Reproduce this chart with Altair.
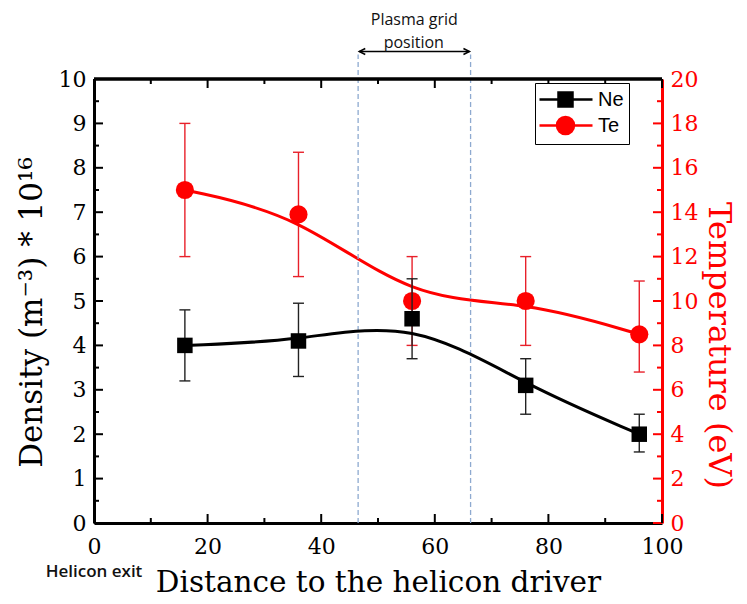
import altair as alt
import pandas as pd

# ---------------- data ----------------
distance = [16, 36, 56, 76, 96]
ne = [4.0, 4.1, 4.6, 3.1, 2.0]
ne_lo = [3.2, 3.3, 3.7, 2.45, 1.6]
ne_hi = [4.8, 4.95, 5.5, 3.7, 2.45]
te = [15.0, 13.9, 10.0, 10.0, 8.5]
te_lo = [12.0, 11.1, 8.0, 8.0, 6.8]
te_hi = [18.0, 16.7, 12.0, 12.0, 10.9]

series = ["Ne", "Te"]

x_major = [0, 20, 40, 60, 80, 100]
x_minor = [10, 30, 50, 70, 90]
ne_major = [0, 1, 2, 3, 4, 5, 6, 7, 8, 9, 10]
ne_minor = [0.5, 1.5, 2.5, 3.5, 4.5, 5.5, 6.5, 7.5, 8.5, 9.5]
te_major = [0, 2, 4, 6, 8, 10, 12, 14, 16, 18, 20]
te_minor = [1, 3, 5, 7, 9, 11, 13, 15, 17, 19]

# plasma grid annotation (in data units of x and of the density axis)
grid_edges = [46.5, 66.3]
grid_top = 10.55
arrow_from = 46.7
arrow_to = 66.1
arrow_y = 10.62
ann_text = ["Plasma grid", "position"]
ann_x = [56.4, 56.3]
ann_y = [11.32, 10.82]
exit_text = ["Helicon exit"]
exit_x = [0.0]
exit_y = [-1.1]

# ---------------- styling ----------------
W, H = 568, 444
RED = "#ff0000"
SERIF = "DejaVu Serif"

df = pd.DataFrame({"d": distance, "ne": ne, "ne_lo": ne_lo, "ne_hi": ne_hi,
                   "te": te, "te_lo": te_lo, "te_hi": te_hi})

xscale = alt.Scale(domain=[0, 100], nice=False, zero=False)
ynscale = alt.Scale(domain=[0, 10], nice=False)
ytscale = alt.Scale(domain=[0, 20], nice=False)

xaxis = alt.Axis(values=x_major, ticks=False, domainWidth=3, domainColor="black",
                 labelFont=SERIF, labelFontSize=22, labelColor="black", labelPadding=13,
                 labelFlush=False, grid=False,
                 title="Distance to the helicon driver", titleFont=SERIF,
                 titleFontSize=29.5, titleFontWeight="normal", titleColor="black",
                 titlePadding=11)
ynaxis = alt.Axis(values=ne_major, ticks=False, domainWidth=3, domainColor="black",
                  labelFont=SERIF, labelFontSize=22, labelColor="black", labelPadding=8,
                  labelFlush=False, grid=False,
                  title="Density (m⁻³) * 10¹⁶", titleFont=SERIF, titleFontSize=31,
                  titleFontWeight="normal", titleColor="black", titlePadding=10,
                  titleY=233)
ytaxis = alt.Axis(values=te_major, orient="right", ticks=False, domainWidth=3,
                  domainColor=RED, labelFont=SERIF, labelFontSize=22, labelColor=RED,
                  labelPadding=8, labelFlush=False, grid=False,
                  title="Temperature (eV)", titleFont=SERIF, titleFontSize=32,
                  titleFontWeight="normal", titleColor=RED, titleAngle=90,
                  titlePadding=4, titleY=266)


def X(f):
    return alt.X(f, type="quantitative", scale=xscale, axis=xaxis)


def YN(f):
    return alt.Y(f, type="quantitative", scale=ynscale, axis=ynaxis)


def YT(f):
    return alt.Y(f, type="quantitative", scale=ytscale, axis=ytaxis)


base = alt.Chart(df)

# ---------------- Te (right axis) ----------------
te_bars = base.mark_rule(color="#e8202a", strokeWidth=1.4).encode(
    x=X("d"), y=YT("te_lo"), y2="te_hi")
te_cap_lo = base.mark_tick(orient="horizontal", size=11, thickness=1.4,
                           color="#e8202a", opacity=1).encode(x=X("d"), y=YT("te_lo"))
te_cap_hi = base.mark_tick(orient="horizontal", size=11, thickness=1.4,
                           color="#e8202a", opacity=1).encode(x=X("d"), y=YT("te_hi"))
te_line = base.mark_line(interpolate="basis", color=RED, strokeWidth=3).encode(
    x=X("d"), y=YT("te"))
te_pts = base.mark_point(shape="circle", filled=True, size=330, color=RED,
                         opacity=1).encode(x=X("d"), y=YT("te"))

tmaj = alt.Chart(pd.DataFrame({"v": te_major})).mark_rule(
    color=RED, strokeWidth=2).encode(y=YT("v"), x=alt.value(W), x2=alt.value(W - 9))
tmin = alt.Chart(pd.DataFrame({"v": te_minor})).mark_rule(
    color=RED, strokeWidth=2).encode(y=YT("v"), x=alt.value(W), x2=alt.value(W - 5))

te_group = alt.layer(te_bars, te_cap_lo, te_cap_hi, te_line, te_pts, tmaj, tmin)

# ---------------- Ne (left axis) ----------------
ne_bars = base.mark_rule(color="#222222", strokeWidth=1.4).encode(
    x=X("d"), y=YN("ne_lo"), y2="ne_hi")
ne_cap_lo = base.mark_tick(orient="horizontal", size=11, thickness=1.4,
                           color="#222222", opacity=1).encode(x=X("d"), y=YN("ne_lo"))
ne_cap_hi = base.mark_tick(orient="horizontal", size=11, thickness=1.4,
                           color="#222222", opacity=1).encode(x=X("d"), y=YN("ne_hi"))
ne_line = base.mark_line(interpolate="basis", color="black", strokeWidth=3).encode(
    x=X("d"), y=YN("ne"))
ne_pts = base.mark_point(shape="square", filled=True, size=240, color="black",
                         opacity=1).encode(x=X("d"), y=YN("ne"))

ymaj = alt.Chart(pd.DataFrame({"v": ne_major})).mark_rule(
    color="black", strokeWidth=2).encode(y=YN("v"), x=alt.value(0), x2=alt.value(9))
ymin = alt.Chart(pd.DataFrame({"v": ne_minor})).mark_rule(
    color="black", strokeWidth=2).encode(y=YN("v"), x=alt.value(0), x2=alt.value(5))
xmaj_b = alt.Chart(pd.DataFrame({"v": x_major})).mark_rule(
    color="black", strokeWidth=2).encode(x=X("v"), y=alt.value(H), y2=alt.value(H - 9))
xmin_b = alt.Chart(pd.DataFrame({"v": x_minor})).mark_rule(
    color="black", strokeWidth=2).encode(x=X("v"), y=alt.value(H), y2=alt.value(H - 5))
xmaj_t = alt.Chart(pd.DataFrame({"v": x_major})).mark_rule(
    color="black", strokeWidth=2).encode(x=X("v"), y=alt.value(0), y2=alt.value(9))
xmin_t = alt.Chart(pd.DataFrame({"v": x_minor})).mark_rule(
    color="black", strokeWidth=2).encode(x=X("v"), y=alt.value(0), y2=alt.value(5))
top_frame = alt.Chart(pd.DataFrame({"v": [0, 100]})).mark_rule(
    color="black", strokeWidth=3).encode(x=alt.value(0), x2=alt.value(W), y=alt.value(0))

grid_df = pd.DataFrame({"x": grid_edges, "y0": [0, 0], "y1": [grid_top, grid_top]})
grid_lines = alt.Chart(grid_df).mark_rule(
    color="#8eaad0", strokeWidth=1.3, strokeDash=[5, 3], clip=False).encode(
    x=X("x"), y=YN("y0"), y2="y1")

arrow_df = pd.DataFrame({"x0": [arrow_from], "x1": [arrow_to], "y": [arrow_y]})
arrow_line = alt.Chart(arrow_df).mark_rule(color="black", strokeWidth=1.5,
                                           clip=False).encode(
    x=X("x0"), x2="x1", y=YN("y"))
head_l = alt.Chart(arrow_df).mark_point(shape="M2,-1L0,0L2,1", filled=False,
                                        size=36, strokeWidth=1.5, color="black",
                                        opacity=1, clip=False).encode(
    x=X("x0"), y=YN("y"))
head_r = alt.Chart(arrow_df).mark_point(shape="M-2,-1L0,0L-2,1", filled=False,
                                        size=36, strokeWidth=1.5, color="black",
                                        opacity=1, clip=False).encode(
    x=X("x1"), y=YN("y"))

ann_df = pd.DataFrame({"t": ann_text, "x": ann_x, "y": ann_y})
ann = alt.Chart(ann_df).mark_text(font="Open Sans", fontSize=16, color="#111111",
                                  align="center", baseline="middle",
                                  clip=False).encode(
    x=X("x"), y=YN("y"), text="t")
exit_df = pd.DataFrame({"t": exit_text, "x": exit_x, "y": exit_y})
exit_lbl = alt.Chart(exit_df).mark_text(font="Open Sans", fontSize=17,
                                        fontWeight=600, color="#111111",
                                        align="center", baseline="middle",
                                        clip=False).encode(
    x=X("x"), y=YN("y"), text="t")

ne_group = alt.layer(grid_lines, arrow_line, head_l, head_r, ann, exit_lbl,
                     ne_bars, ne_cap_lo, ne_cap_hi, ne_line, ne_pts,
                     ymaj, ymin, xmaj_b, xmin_b, xmaj_t, xmin_t, top_frame)

# ---------------- legend (driven by scale domain only) ----------------
# custom legend glyphs: a line segment with the series marker on it
path_ne = "M-1.2,0L4.1,0M0.7,-0.7L2.1,-0.7L2.1,0.7L0.7,0.7Z"
path_te = "M-1.2,0L4.1,0M2.25,0A0.85,0.85 0 1 1 0.55,0A0.85,0.85 0 1 1 2.25,0Z"
leg = alt.Legend(orient="none", legendX=441, legendY=4, title=None,
                 fillColor="white", strokeColor="black", padding=5,
                 labelFont="Liberation Sans", labelFontSize=20, labelColor="black",
                 symbolSize=400, symbolStrokeWidth=2.5, labelOffset=35,
                 rowPadding=0, cornerRadius=0)
leg_df = pd.DataFrame({"series": series})
legend_layer = alt.Chart(leg_df).transform_filter(
    "datum.series == 'none'").mark_point(filled=True, opacity=1).encode(
    fill=alt.Fill("series:N", scale=alt.Scale(domain=series, range=["black", RED]),
                  legend=leg),
    stroke=alt.Stroke("series:N", scale=alt.Scale(domain=series, range=["black", RED]),
                      legend=leg),
    shape=alt.Shape("series:N", scale=alt.Scale(domain=series, range=[path_ne, path_te]),
                    legend=leg),
)

chart = alt.layer(te_group, ne_group, legend_layer).resolve_scale(
    y="independent"
).properties(
    width=W, height=H,
    autosize=alt.AutoSizeParams(type="none"),
    padding={"left": 86, "top": 71, "right": 77, "bottom": 76},
    background="white",
).configure_view(stroke=None)

chart.save("out.html", embed_options={"renderer": "svg", "actions": False})
